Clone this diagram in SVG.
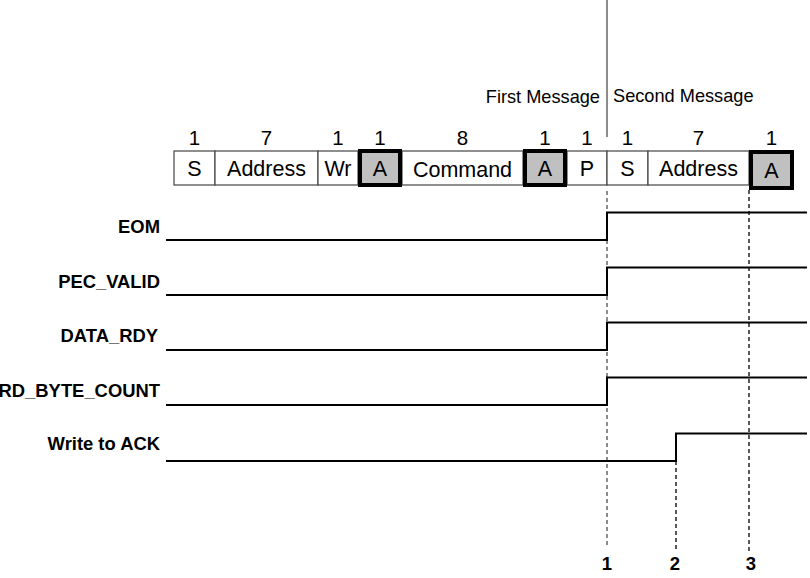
<svg xmlns="http://www.w3.org/2000/svg" width="810" height="578" viewBox="0 0 810 578">
<style>
.bx{fill:#fff;stroke:#444;stroke-width:1.2}
.ack{fill:#c0c0c0;stroke:#000;stroke-width:4}
.bt{font-family:"Liberation Sans",Arial,sans-serif;font-size:21.5px;fill:#000;text-anchor:middle}
.num{font-family:"Liberation Sans",Arial,sans-serif;font-size:20.5px;fill:#000;text-anchor:middle}
.msg{font-family:"Liberation Sans",Arial,sans-serif;font-size:18.2px;fill:#000}
.lbl{font-family:"Liberation Sans",Arial,sans-serif;font-size:18.4px;font-weight:bold;fill:#000;text-anchor:end}
.mk{font-family:"Liberation Sans",Arial,sans-serif;font-size:18.5px;font-weight:bold;fill:#000;text-anchor:middle}
.sig{fill:none;stroke:#000;stroke-width:2}
.dash{fill:none;stroke:#000;stroke-width:1.3;stroke-dasharray:4,3}
.dashg{fill:none;stroke:#666;stroke-width:1.5;stroke-dasharray:4,3}
</style>
<rect width="810" height="578" fill="#fff"/>
<g id="divider">
<line x1="607" y1="0" x2="607" y2="137" stroke="#666" stroke-width="1.5"/>
<text class="msg" x="600" y="103" text-anchor="end">First Message</text>
<text class="msg" x="613" y="102">Second Message</text>
</g>
<g id="frame">
<rect class="bx" x="174" y="151" width="41" height="34"/>
<rect class="bx" x="215" y="151" width="103" height="34"/>
<rect class="bx" x="318" y="151" width="40" height="34"/>
<rect class="bx" x="402" y="151" width="121" height="34"/>
<rect class="bx" x="567" y="151" width="40" height="34"/>
<rect class="bx" x="607" y="151" width="41" height="34"/>
<rect class="bx" x="648" y="151" width="101" height="34"/>
<rect class="ack" x="360" y="151" width="40" height="34"/>
<rect class="ack" x="525" y="151" width="40" height="34"/>
<rect class="ack" x="751" y="152" width="41" height="36"/>
<text class="bt" x="194.5" y="175.5">S</text>
<text class="bt" x="266.5" y="175.5">Address</text>
<text class="bt" x="338" y="175.5">Wr</text>
<text class="bt" x="380" y="175.5">A</text>
<text class="bt" x="462.5" y="177">Command</text>
<text class="bt" x="545" y="175.5">A</text>
<text class="bt" x="587" y="175.5">P</text>
<text class="bt" x="627.5" y="175.5">S</text>
<text class="bt" x="698.5" y="175.5">Address</text>
<text class="bt" x="771.5" y="177.5">A</text>
<text class="num" x="194.5" y="144.5">1</text>
<text class="num" x="266.5" y="144.5">7</text>
<text class="num" x="338" y="144.5">1</text>
<text class="num" x="380" y="144.5">1</text>
<text class="num" x="462.5" y="145">8</text>
<text class="num" x="545" y="145">1</text>
<text class="num" x="587" y="145">1</text>
<text class="num" x="627.5" y="145">1</text>
<text class="num" x="698.5" y="145">7</text>
<text class="num" x="771.5" y="145">1</text>
</g>
<g id="labels">
<text class="lbl" x="160" y="233">EOM</text>
<text class="lbl" x="160" y="288">PEC_VALID</text>
<text class="lbl" x="158" y="342">DATA_RDY</text>
<text class="lbl" x="160" y="397">RD_BYTE_COUNT</text>
<text class="lbl" x="160" y="450">Write to ACK</text>
</g>
<g id="connectors">
<line class="dashg" x1="607" y1="191" x2="607" y2="548"/>
<line class="dash" x1="676" y1="461" x2="676" y2="551"/>
<line class="dash" x1="749" y1="190" x2="749" y2="551"/>
<polyline class="sig" points="166,240 607,240 607,212.5 807,212.5"/>
<polyline class="sig" points="166,295 607,295 607,267.5 807,267.5"/>
<polyline class="sig" points="166,350 607,350 607,322.5 807,322.5"/>
<polyline class="sig" points="166,405 607,405 607,377.5 807,377.5"/>
<polyline class="sig" points="166,461 676,461 676,433.5 807,433.5"/>
</g>
<g id="markers">
<text class="mk" x="607" y="570">1</text>
<text class="mk" x="675" y="570">2</text>
<text class="mk" x="751" y="570">3</text>
</g>
</svg>
